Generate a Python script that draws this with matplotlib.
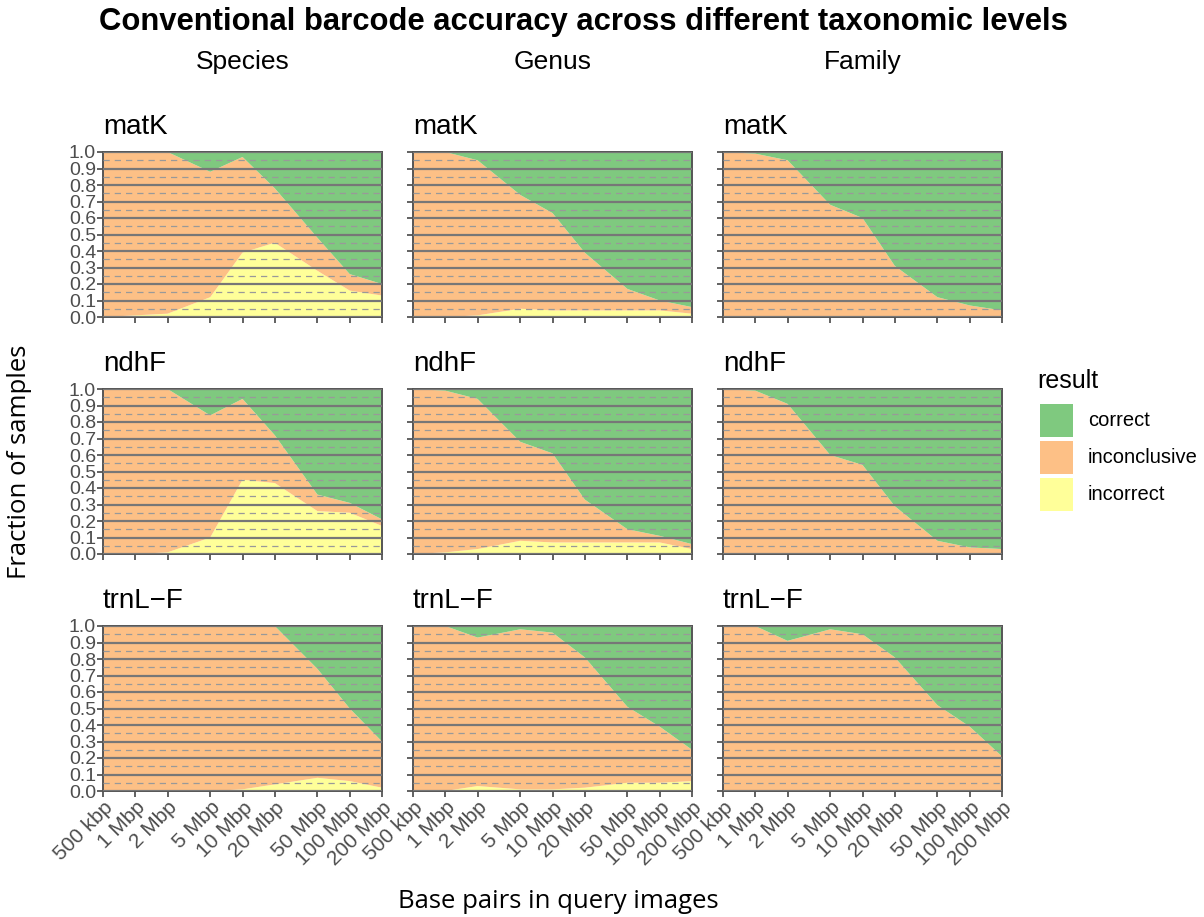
import matplotlib.pyplot as plt
from matplotlib.patches import Rectangle
import numpy as np

plt.rcParams['font.family'] = ['Liberation Sans', 'DejaVu Sans']

# query image sizes (bp) and their labels
sizes = [5e5, 1e6, 2e6, 5e6, 1e7, 2e7, 5e7, 1e8, 2e8]
size_labels = ['500 kbp', '1 Mbp', '2 Mbp', '5 Mbp', '10 Mbp', '20 Mbp',
               '50 Mbp', '100 Mbp', '200 Mbp']

levels = ['Species', 'Genus', 'Family']
markers = ['matK', 'ndhF', 'trnL\u2212F']

# fraction of correct / incorrect calls; the rest is inconclusive
correct = {
    ('matK', 'Species'): [0.0, 0.0, 0.0, 0.12, 0.03, 0.22, 0.52, 0.74, 0.80],
    ('matK', 'Genus'):   [0.0, 0.0, 0.05, 0.26, 0.37, 0.61, 0.83, 0.90, 0.94],
    ('matK', 'Family'):  [0.0, 0.01, 0.05, 0.32, 0.40, 0.69, 0.88, 0.93, 0.96],
    ('ndhF', 'Species'): [0.0, 0.0, 0.0, 0.16, 0.06, 0.28, 0.64, 0.69, 0.79],
    ('ndhF', 'Genus'):   [0.0, 0.01, 0.06, 0.32, 0.39, 0.67, 0.85, 0.89, 0.94],
    ('ndhF', 'Family'):  [0.0, 0.01, 0.09, 0.40, 0.46, 0.71, 0.92, 0.96, 0.97],
    ('trnL\u2212F', 'Species'): [0.0, 0.0, 0.0, 0.0, 0.0, 0.0, 0.26, 0.50, 0.70],
    ('trnL\u2212F', 'Genus'):   [0.0, 0.0, 0.07, 0.02, 0.04, 0.19, 0.49, 0.61, 0.75],
    ('trnL\u2212F', 'Family'):  [0.0, 0.0, 0.09, 0.02, 0.05, 0.19, 0.48, 0.61, 0.79],
}
incorrect = {
    ('matK', 'Species'): [0.0, 0.01, 0.02, 0.12, 0.39, 0.45, 0.28, 0.16, 0.13],
    ('matK', 'Genus'):   [0.0, 0.0, 0.01, 0.05, 0.04, 0.04, 0.04, 0.04, 0.02],
    ('matK', 'Family'):  [0.0, 0.0, 0.0, 0.0, 0.0, 0.0, 0.0, 0.0, 0.0],
    ('ndhF', 'Species'): [0.0, 0.0, 0.01, 0.10, 0.45, 0.43, 0.26, 0.25, 0.17],
    ('ndhF', 'Genus'):   [0.0, 0.01, 0.03, 0.08, 0.07, 0.07, 0.07, 0.07, 0.03],
    ('ndhF', 'Family'):  [0.0, 0.0, 0.0, 0.0, 0.0, 0.0, 0.0, 0.0, 0.0],
    ('trnL\u2212F', 'Species'): [0.0, 0.0, 0.0, 0.0, 0.01, 0.04, 0.08, 0.06, 0.02],
    ('trnL\u2212F', 'Genus'):   [0.0, 0.0, 0.03, 0.01, 0.01, 0.02, 0.05, 0.05, 0.06],
    ('trnL\u2212F', 'Family'):  [0.0, 0.0, 0.0, 0.0, 0.0, 0.0, 0.0, 0.0, 0.0],
}

results = ['correct', 'inconclusive', 'incorrect']
col_green = '#7fc97f'
col_orange = '#fdc086'
col_yellow = '#ffff99'

W, H = 1204, 917
fig = plt.figure(figsize=(W / 100, H / 100), dpi=100)

lefts = [103, 413, 723]
tops = [152, 389, 626]
pw, ph = 279, 165

for r, m in enumerate(markers):
    for c, lev in enumerate(levels):
        ax = fig.add_axes([lefts[c] / W, 1 - (tops[r] + ph) / H, pw / W, ph / H])
        cor = np.array(correct[(m, lev)])
        inc = np.array(incorrect[(m, lev)])
        inconc = 1 - cor - inc
        ax.stackplot(sizes, inc, inconc, cor,
                     colors=[col_yellow, col_orange, col_green], linewidth=0)
        ax.set_xscale('log')
        ax.set_xlim(sizes[0], sizes[-1])
        ax.set_ylim(0, 1)
        ax.set_xticks(sizes)
        ax.xaxis.set_minor_locator(plt.NullLocator())
        ax.set_yticks(np.arange(0, 1.01, 0.1))
        ax.set_yticks(np.arange(0.05, 1.0, 0.1), minor=True)
        ax.set_axisbelow(False)
        ax.grid(which='major', axis='y', color='#777777', linewidth=1.6)
        ax.grid(which='minor', axis='y', color='#999999', linewidth=0.9,
                linestyle=(0, (5, 4)))
        ax.tick_params(which='minor', length=0)
        ax.tick_params(which='major', direction='out', length=4, width=1.3,
                       color='#555555', labelcolor='#4d4d4d', pad=1)
        ax.tick_params(axis='y', labelsize=14)
        ax.tick_params(axis='x', labelsize=15)
        if c == 0:
            ax.set_yticklabels(['%.1f' % v for v in np.arange(0, 1.01, 0.1)])
        else:
            ax.set_yticklabels([])
        if r == 2:
            ax.set_xticklabels(size_labels, rotation=45, ha='right',
                               rotation_mode='anchor')
        else:
            ax.set_xticklabels([])
        for s in ax.spines.values():
            s.set_color('#555555')
            s.set_linewidth(1.4)
        ax.set_title(m, loc='left', fontsize=20, pad=13)

for c, lev in enumerate(levels):
    fig.text((lefts[c] + pw / 2) / W, 1 - 62 / H, lev, ha='center', va='center',
             fontsize=19)

fig.text(583 / W, 1 - 22 / H,
         'Conventional barcode accuracy across different taxonomic levels',
         ha='center', va='center', fontsize=22.3, fontweight='bold')

fig.text(20 / W, 1 - 462 / H, 'Fraction of samples', rotation=90,
         ha='center', va='center', fontsize=18.5, family='Open Sans')
fig.text(558 / W, 1 - 902 / H, 'Base pairs in query images',
         ha='center', va='center', fontsize=18.5, family='Open Sans')

# legend: colour keys stacked under the "result" heading
fig.text(1037 / W, 1 - 381 / H, 'result', ha='left', va='center', fontsize=18)
key_cols = [col_green, col_orange, col_yellow]
for i, (lab, kc) in enumerate(zip(results, key_cols)):
    y_top = 404 + i * 37
    fig.add_artist(Rectangle((1040 / W, 1 - (y_top + 33) / H), 33 / W, 33 / H,
                             transform=fig.transFigure, facecolor=kc,
                             edgecolor='none'))
    fig.text(1088 / W, 1 - (y_top + 16.5) / H, lab, ha='left', va='center',
             fontsize=14.5)

fig.savefig('out.png', dpi=100)
